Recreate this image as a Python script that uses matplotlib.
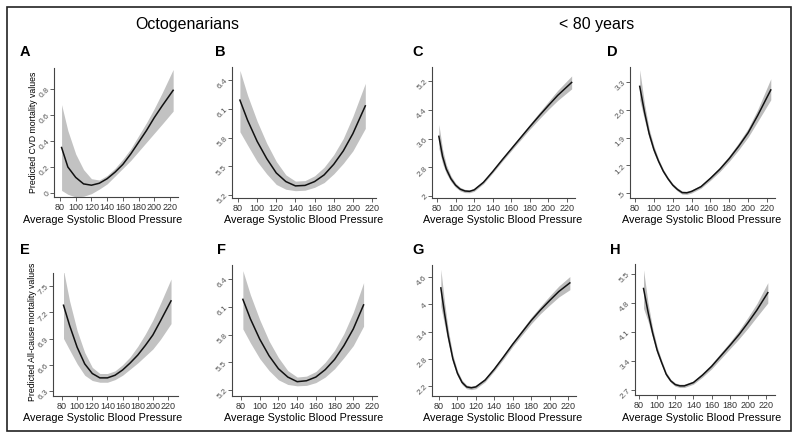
import matplotlib
matplotlib.use("Agg")
import matplotlib.pyplot as plt
from matplotlib.patches import Rectangle

plt.rcParams["font.family"] = ["Liberation Sans", "DejaVu Sans"]

# Datos (presion sistolica -> valor predicho, con banda de confianza)
# A: octogenarios, mortalidad CVD
x_a = [82, 90, 100, 110, 120, 130, 140, 150, 160, 170, 180, 190, 200, 210, 224]
fit_a = [0.35, 0.20, 0.12, 0.07, 0.06, 0.075, 0.11, 0.16, 0.22, 0.30, 0.39, 0.48, 0.58, 0.67, 0.79]
hi_a = [0.68, 0.48, 0.30, 0.18, 0.11, 0.10, 0.135, 0.19, 0.26, 0.34, 0.44, 0.54, 0.65, 0.77, 0.95]
lo_a = [0.02, -0.01, -0.03, -0.025, -0.005, 0.03, 0.07, 0.13, 0.19, 0.25, 0.32, 0.39, 0.46, 0.53, 0.63]

# B: octogenarios
x_b = [82, 90, 100, 110, 120, 130, 140, 150, 160, 170, 180, 190, 200, 213]
fit_b = [6.19, 5.98, 5.76, 5.58, 5.43, 5.34, 5.295, 5.30, 5.34, 5.41, 5.52, 5.66, 5.84, 6.13]
hi_b = [6.50, 6.24, 5.97, 5.74, 5.55, 5.41, 5.345, 5.35, 5.40, 5.49, 5.62, 5.79, 6.02, 6.365]
lo_b = [5.86, 5.72, 5.55, 5.42, 5.31, 5.26, 5.245, 5.25, 5.28, 5.33, 5.42, 5.53, 5.66, 5.895]

# C: < 80 anios, mortalidad CVD
x_c = [82, 86, 90, 95, 100, 105, 110, 115, 120, 130, 140, 150, 160, 170, 180, 190, 200, 210, 225]
fit_c = [3.66, 3.10, 2.75, 2.48, 2.30, 2.19, 2.14, 2.13, 2.17, 2.38, 2.68, 3.00, 3.31, 3.62, 3.93, 4.23, 4.52, 4.80, 5.16]
hi_c = [3.99, 3.30, 2.87, 2.56, 2.36, 2.24, 2.185, 2.17, 2.21, 2.42, 2.72, 3.045, 3.36, 3.68, 4.00, 4.32, 4.63, 4.94, 5.34]
lo_c = [3.33, 2.90, 2.63, 2.40, 2.24, 2.14, 2.095, 2.09, 2.13, 2.34, 2.64, 2.955, 3.26, 3.56, 3.86, 4.14, 4.41, 4.66, 4.98]

# D: < 80 anios
x_d = [85, 90, 95, 100, 105, 110, 115, 120, 125, 130, 135, 140, 150, 160, 170, 180, 190, 200, 210, 224]
fit_d = [3.19, 2.55, 2.00, 1.60, 1.30, 1.05, 0.86, 0.70, 0.59, 0.51, 0.505, 0.54, 0.66, 0.87, 1.10, 1.37, 1.68, 2.02, 2.45, 3.10]
hi_d = [3.61, 2.76, 2.12, 1.69, 1.36, 1.10, 0.90, 0.74, 0.63, 0.55, 0.545, 0.58, 0.70, 0.92, 1.16, 1.44, 1.77, 2.13, 2.60, 3.38]
lo_d = [2.85, 2.35, 1.88, 1.51, 1.24, 1.00, 0.82, 0.66, 0.55, 0.47, 0.465, 0.50, 0.62, 0.82, 1.04, 1.30, 1.59, 1.91, 2.30, 2.85]

# E: octogenarios, mortalidad por todas las causas
x_e = [82, 90, 100, 110, 120, 130, 140, 150, 160, 170, 180, 190, 200, 210, 224]
fit_e = [7.28, 7.05, 6.80, 6.61, 6.50, 6.45, 6.45, 6.48, 6.54, 6.62, 6.71, 6.82, 6.94, 7.10, 7.33]
hi_e = [7.68, 7.33, 6.99, 6.74, 6.57, 6.50, 6.50, 6.53, 6.60, 6.69, 6.81, 6.95, 7.11, 7.30, 7.58]
lo_e = [6.90, 6.77, 6.61, 6.48, 6.42, 6.40, 6.40, 6.43, 6.48, 6.55, 6.62, 6.70, 6.78, 6.89, 7.07]

# F: octogenarios
x_f = [82, 90, 100, 110, 120, 130, 140, 150, 160, 170, 180, 190, 200, 211]
fit_f = [6.18, 5.97, 5.75, 5.57, 5.43, 5.34, 5.29, 5.30, 5.34, 5.42, 5.53, 5.68, 5.86, 6.12]
hi_f = [6.49, 6.23, 5.96, 5.73, 5.55, 5.41, 5.34, 5.35, 5.40, 5.50, 5.63, 5.81, 6.04, 6.36]
lo_f = [5.86, 5.71, 5.54, 5.41, 5.31, 5.26, 5.245, 5.25, 5.28, 5.34, 5.43, 5.55, 5.68, 5.89]

# G: < 80 anios
x_g = [82, 86, 90, 95, 100, 105, 110, 115, 120, 130, 140, 150, 160, 170, 180, 190, 200, 210, 222]
fit_g = [4.36, 3.80, 3.30, 2.80, 2.48, 2.28, 2.18, 2.16, 2.18, 2.33, 2.57, 2.84, 3.12, 3.38, 3.64, 3.87, 4.08, 4.28, 4.47]
hi_g = [4.77, 4.05, 3.45, 2.89, 2.54, 2.33, 2.22, 2.20, 2.22, 2.37, 2.61, 2.89, 3.17, 3.44, 3.71, 3.95, 4.18, 4.40, 4.61]
lo_g = [3.95, 3.55, 3.15, 2.71, 2.42, 2.23, 2.14, 2.12, 2.14, 2.29, 2.53, 2.79, 3.07, 3.32, 3.57, 3.79, 3.98, 4.16, 4.32]

# H: < 80 anios
x_h = [85, 90, 95, 100, 105, 110, 115, 120, 125, 130, 140, 150, 160, 170, 180, 190, 200, 210, 222]
fit_h = [5.15, 4.58, 4.08, 3.66, 3.36, 3.08, 2.92, 2.83, 2.80, 2.80, 2.88, 3.06, 3.27, 3.52, 3.77, 4.03, 4.32, 4.63, 5.05]
hi_h = [5.60, 4.80, 4.20, 3.75, 3.42, 3.13, 2.96, 2.87, 2.84, 2.84, 2.92, 3.11, 3.33, 3.59, 3.85, 4.13, 4.45, 4.79, 5.29]
lo_h = [4.67, 4.36, 3.96, 3.57, 3.30, 3.03, 2.88, 2.79, 2.76, 2.76, 2.84, 3.01, 3.21, 3.45, 3.69, 3.93, 4.19, 4.47, 4.80]

x_ticks = [80, 100, 120, 140, 160, 180, 200, 220]
yt_a = [0, 0.2, 0.4, 0.6, 0.8]
yl_a = ["0", "0.2", "0.4", "0.6", "0.8"]
yt_b = [5.2, 5.5, 5.8, 6.1, 6.4]
yl_b = ["5.2", "5.5", "5.8", "6.1", "6.4"]
yt_c = [2, 2.8, 3.6, 4.4, 5.2]
yl_c = ["2", "2.8", "3.6", "4.4", "5.2"]
yt_d = [0.5, 1.2, 1.9, 2.6, 3.3]
yl_d = [".5", "1.2", "1.9", "2.6", "3.3"]
yt_e = [6.3, 6.6, 6.9, 7.2, 7.5]
yl_e = ["6.3", "6.6", "6.9", "7.2", "7.5"]
yt_f = [5.2, 5.5, 5.8, 6.1, 6.4]
yl_f = ["5.2", "5.5", "5.8", "6.1", "6.4"]
yt_g = [2.2, 2.8, 3.4, 4, 4.6]
yl_g = ["2.2", "2.8", "3.4", "4", "4.6"]
yt_h = [2.7, 3.4, 4.1, 4.8, 5.5]
yl_h = ["2.7", "3.4", "4.1", "4.8", "5.5"]

W, H = 800, 441
fig = plt.figure(figsize=(W / 100, H / 100), dpi=100)

# borde de toda la figura
fig.add_artist(Rectangle((7 / W, 1 - 431 / H), 784 / W, 424 / H,
                         transform=fig.transFigure, fill=False, lw=1.2, ec="#222222"))

fig.text(187 / W, 1 - 24 / H, "Octogenarians", ha="center", va="center", fontsize=11.5)
fig.text(597 / W, 1 - 24 / H, "< 80 years", ha="center", va="center", fontsize=11.5)


def lims(p1, v1, p2, v2, e1, e2):
    s = (v2 - v1) / (p2 - p1)
    return v1 + (e1 - p1) * s, v1 + (e2 - p1) * s


# letra, datos, ticks, caja en pixeles (izq, der, arriba, abajo), pixeles de 80/220, pixeles de ticks y
panels = [
    ("A", x_a, fit_a, lo_a, hi_a, yt_a, yl_a, (54, 178, 68, 197), (60, 170), (193, 89), (20, 52), 103, 220, False),
    ("B", x_b, fit_b, lo_b, hi_b, yt_b, yl_b, (232, 376, 67, 198), (238, 372), (195, 80), (215, 52), 304, 220, False),
    ("C", x_c, fit_c, lo_c, hi_c, yt_c, yl_c, (432, 575, 67, 198), (437, 567), (196, 81), (412, 52), 503, 220, True),
    ("D", x_d, fit_d, lo_d, hi_d, yt_d, yl_d, (630, 775, 67, 198), (635, 767), (193, 82), (607, 52), 702, 220, True),
    ("E", x_e, fit_e, lo_e, hi_e, yt_e, yl_e, (53, 178, 273, 396), (62, 168), (391, 286), (20, 250), 103, 418, False),
    ("F", x_f, fit_f, lo_f, hi_f, yt_f, yl_f, (232, 377, 265, 396), (241, 372), (390, 279), (217, 250), 304, 418, False),
    ("G", x_g, fit_g, lo_g, hi_g, yt_g, yl_g, (432, 576, 265, 396), (439, 568), (386, 277), (412, 250), 503, 418, True),
    ("H", x_h, fit_h, lo_h, hi_h, yt_h, yl_h, (635, 775, 264, 395), (639, 766), (390, 274), (610, 250), 702, 418, True),
]

for (letter, xs, fit, lo, hi, yt, yl, box, xpx, ypx, lpos, xlab_x, xlab_y, narrow) in panels:
    l, r, t, b = box
    ax = fig.add_axes([l / W, 1 - b / H, (r - l) / W, (b - t) / H])
    band = "#bcbcbc" if narrow else "#c2c2c2"
    ax.fill_between(xs, lo, hi, color=band, lw=0)
    ax.plot(xs, fit, color="#111111", lw=1.1)

    ax.set_xlim(*lims(xpx[0], 80, xpx[1], 220, l, r))
    ax.set_ylim(*lims(ypx[0], yt[0], ypx[1], yt[-1], b, t))

    ax.set_xticks(x_ticks)
    ax.set_yticks(yt, labels=yl)
    for s in ["top", "right"]:
        ax.spines[s].set_visible(False)
    for s in ["left", "bottom"]:
        ax.spines[s].set_color("#444444")
        ax.spines[s].set_linewidth(0.8)
    ax.tick_params(axis="x", length=3, width=0.6, colors="#444444", labelsize=6.5,
                   labelcolor="#333333", pad=1.5)
    ax.tick_params(axis="y", length=3, width=0.6, colors="#444444", labelsize=6,
                   labelcolor="#555555", pad=1)
    for lab in ax.get_yticklabels():
        lab.set_rotation(45)
        lab.set_rotation_mode("anchor")
        lab.set_ha("right")
        lab.set_va("center")

    fig.text(lpos[0] / W, 1 - lpos[1] / H, letter, ha="left", va="center",
             fontsize=10.5, fontweight="bold")
    fig.text(xlab_x / W, 1 - xlab_y / H, "Average Systolic Blood Pressure",
             ha="center", va="center", fontsize=7.8)

fig.text(33 / W, 1 - 132 / H, "Predicted CVD mortality values", rotation=90,
         ha="center", va="center", fontsize=6.3)
fig.text(33 / W, 1 - 332 / H, "Predicted All-cause mortality values", rotation=90,
         ha="center", va="center", fontsize=6.3)

fig.savefig("out.png", dpi=100)
